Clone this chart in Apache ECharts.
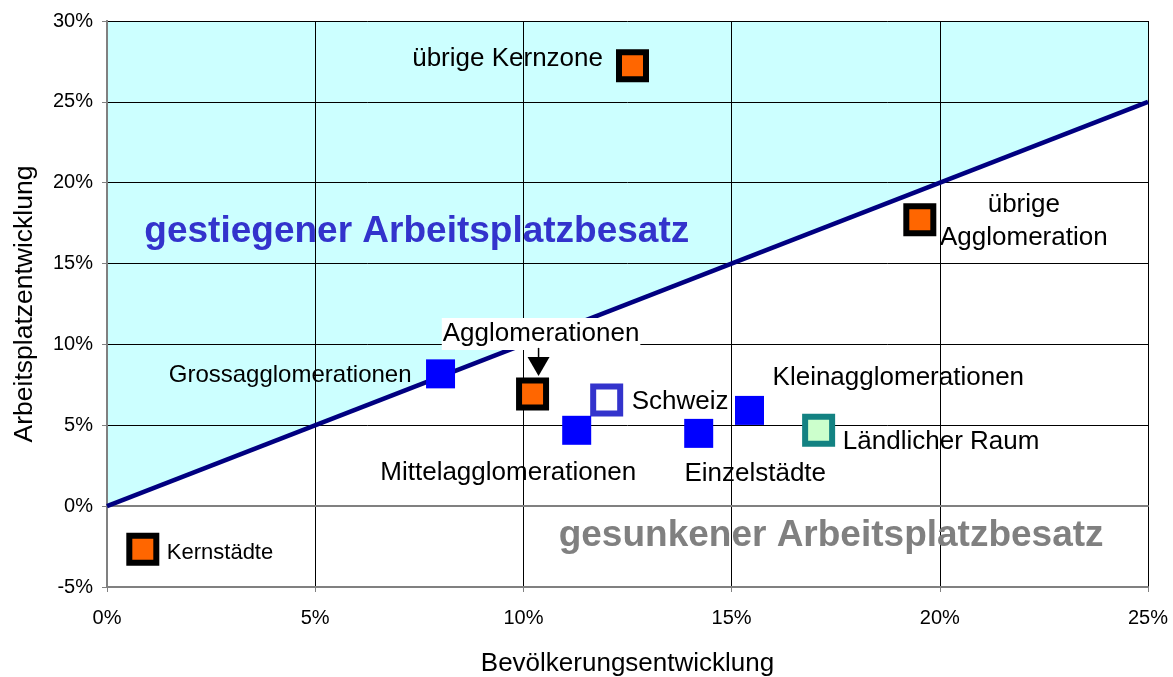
<!DOCTYPE html>
<html><head><meta charset="utf-8">
<script src="https://cdn.jsdelivr.net/npm/echarts@6/dist/echarts.min.js"></script>
<style>html,body{margin:0;padding:0;background:#fff}#c{width:1173px;height:677px}</style>
</head><body><div id="c"></div>
<script>
// ---- data ----
const names = ['übrige Kernzone','übrige Agglomeration','Grossagglomerationen','Agglomerationen','Schweiz','Mittelagglomerationen','Einzelstädte','Kleinagglomerationen','Ländlicher Raum','Kernstädte'];
const popGrowth = [12.62, 19.52, 8.01, 10.22, 12.00, 11.28, 14.21, 15.43, 17.09, 0.86];
const jobGrowth = [27.23, 17.71, 8.18, 6.94, 6.57, 4.69, 4.50, 5.92, 4.69, -2.67];
const groups = ['core','core','size','core','total','size','size','size','rural','core'];
const xTicks = [0, 5, 10, 15, 20, 25];
const yTicks = [-5, 0, 5, 10, 15, 20, 25, 30];
const identityLine = [[0, 0], [25, 25]];
const raisedRegion = [[0, 0], [25, 25], [25, 30], [0, 30]];
const regionLabels = ['gestiegener Arbeitsplatzbesatz', 'gesunkener Arbeitsplatzbesatz'];
const regionLabelX = [7.44, 17.39];
const regionLabelY = [16.95, -1.86];

// ---- styles (not data) ----
const FONT = 'Liberation Sans, Arial, sans-serif';
const groupStyle = {
  core:  {size: 27, item: {color: '#ff6600', borderColor: '#000000', borderWidth: 6, opacity: 1}},
  size:  {size: 29, item: {color: '#0000ff', borderWidth: 0, opacity: 1}},
  total: {size: 27, item: {color: '#ffffff', borderColor: '#3333cc', borderWidth: 6, opacity: 1}},
  rural: {size: 27, item: {color: '#ccffcc', borderColor: '#138282', borderWidth: 6, opacity: 1}}
};
const labelLayout = {
  'übrige Kernzone':      {offset: [-29.5, -6.5], align: 'right'},
  'übrige Agglomeration': {offset: [104, 1.5], align: 'center', text: 'übrige\nAgglomeration', lineHeight: 33},
  'Grossagglomerationen': {offset: [-29, 1.5], align: 'right', fontSize: 24},
  'Agglomerationen':      {offset: [8.5, -60], align: 'center', bg: true},
  'Schweiz':              {offset: [25, 2], align: 'left'},
  'Mittelagglomerationen':{offset: [-68.5, 43], align: 'center'},
  'Einzelstädte':         {offset: [56.5, 40], align: 'center'},
  'Kleinagglomerationen': {offset: [148.8, -32.7], align: 'center'},
  'Ländlicher Raum':      {offset: [24.2, 11.7], align: 'left'},
  'Kernstädte':           {offset: [24, 3.5], align: 'left', fontSize: 22}
};

const points = names.map((n, i) => {
  const g = groupStyle[groups[i]];
  const L = labelLayout[n];
  return {
    name: n,
    value: [popGrowth[i], jobGrowth[i]],
    symbol: 'rect',
    symbolSize: g.size,
    itemStyle: g.item,
    label: {
      show: true, position: 'inside', offset: L.offset, align: L.align, verticalAlign: 'middle',
      formatter: L.text || n, fontSize: L.fontSize || 26, fontFamily: FONT, color: '#000000',
      lineHeight: L.lineHeight || 30, opacity: 1,
      backgroundColor: L.bg ? '#ffffff' : 'transparent',
      padding: L.bg ? [1, 1, 1, 1] : 0
    }
  };
});

const aggIdx = names.indexOf('Agglomerationen');

const chart = echarts.init(document.getElementById('c'), null, {renderer: 'canvas'});
const axisGray = '#808080';
chart.setOption({
  animation: false,
  backgroundColor: '#ffffff',
  grid: {left: 107, right: 25, top: 21, bottom: 90, containLabel: false, outerBoundsMode: 'none'},
  xAxis: [{
    type: 'value', min: xTicks[0], max: xTicks[xTicks.length - 1], interval: 5,
    name: 'Bevölkerungsentwicklung', nameLocation: 'middle', nameGap: 64,
    nameTextStyle: {fontSize: 26, fontFamily: FONT, color: '#000'},
    axisLine: {show: true, onZero: false, lineStyle: {color: axisGray, width: 2}},
    axisTick: {show: true, length: 5, lineStyle: {color: axisGray, width: 1}},
    axisLabel: {fontSize: 20, fontFamily: FONT, color: '#000', margin: 21, formatter: '{value}%'},
    splitLine: {show: true, lineStyle: {color: '#000', width: 1}}
  }, {
    type: 'value', position: 'top', min: 0, max: 25,
    axisLine: {show: true, lineStyle: {color: axisGray, width: 2}},
    axisTick: {show: false}, axisLabel: {show: false}, splitLine: {show: false}
  }],
  yAxis: [{
    type: 'value', min: yTicks[0], max: yTicks[yTicks.length - 1], interval: 5,
    name: 'Arbeitsplatzentwicklung', nameLocation: 'middle', nameGap: 69,
    nameTextStyle: {fontSize: 26.5, fontFamily: FONT, color: '#000'},
    axisLine: {show: true, onZero: false, lineStyle: {color: axisGray, width: 2}},
    axisTick: {show: true, length: 5, lineStyle: {color: axisGray, width: 1}},
    axisLabel: {fontSize: 20, fontFamily: FONT, color: '#000', margin: 14, formatter: '{value}%'},
    splitLine: {show: true, lineStyle: {color: '#000', width: 1}}
  }, {
    type: 'value', position: 'right', min: -5, max: 30,
    axisLine: {show: true, lineStyle: {color: axisGray, width: 2}},
    axisTick: {show: false}, axisLabel: {show: false}, splitLine: {show: false}
  }],
  series: [
    {
      type: 'custom', z: -1, silent: true,
      data: [[0, 0]],
      renderItem: (params, api) => ({
        type: 'polygon',
        shape: {points: raisedRegion.map(p => api.coord(p))},
        style: {fill: '#ccffff'}
      })
    },
    {
      type: 'line', data: identityLine, symbol: 'none', silent: true, z: 2,
      lineStyle: {color: '#000080', width: 4.5}
    },
    {
      type: 'scatter', z: 4, data: points, emphasis: {disabled: true}, silent: true,
      itemStyle: {opacity: 1}
    },
    {
      type: 'custom', z: 6, silent: true,
      data: [[popGrowth[aggIdx], jobGrowth[aggIdx]]],
      renderItem: (params, api) => {
        const p = api.coord([api.value(0), api.value(1)]);
        const x = p[0] + 6;
        return {type: 'group', children: [
          {type: 'line', shape: {x1: x, y1: p[1] - 46, x2: x, y2: p[1] - 36}, style: {stroke: '#000', lineWidth: 1.5}},
          {type: 'polygon', shape: {points: [[x - 11, p[1] - 37], [x + 11, p[1] - 37], [x, p[1] - 18]]}, style: {fill: '#000'}}
        ]};
      }
    },
    {
      type: 'scatter', z: 3, silent: true, symbolSize: 1,
      itemStyle: {color: 'rgba(0,0,0,0)', opacity: 1},
      data: regionLabels.map((t, i) => ({
        name: t, value: [regionLabelX[i], regionLabelY[i]],
        label: {show: true, position: 'inside', formatter: t, fontSize: 37, fontWeight: 'bold',
                fontFamily: FONT, color: i === 0 ? '#3333cc' : '#808080'}
      }))
    }
  ]
});
</script></body></html>
